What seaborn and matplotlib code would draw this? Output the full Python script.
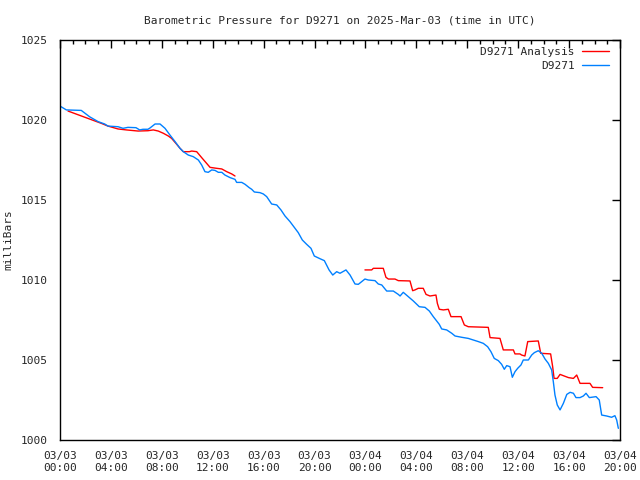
import numpy as np
import pandas as pd
import matplotlib
matplotlib.use("Agg")
import matplotlib.pyplot as plt
import matplotlib.dates as mdates
import seaborn as sns

START = "2025-03-03 00:00"

# D9271 observations: hours since start, pressure (mb)
obs_hours = [0.0, 0.5, 1.67, 2.33, 2.99, 3.51, 3.77, 4.56, 4.95, 5.34, 5.97, 6.26, 6.52, 6.91,
             7.07, 7.47, 7.86, 8.25, 8.64, 9.04, 9.43, 9.69, 10.08, 10.47, 10.87, 11.13, 11.39,
             11.65, 11.92, 12.18, 12.44, 12.71, 12.96, 13.36, 13.75, 13.88, 14.28, 14.54, 14.87,
             15.06, 15.27, 15.71, 15.97, 16.24, 16.63, 17.03, 17.36, 17.68, 18.07, 18.41, 18.72,
             19.04, 19.38, 19.72, 19.98, 20.43, 20.77, 21.14, 21.43, 21.74, 22.0, 22.47, 22.79,
             23.18, 23.44, 23.96, 24.22, 24.75, 25.01, 25.28, 25.67, 26.19, 26.58, 26.72, 26.97,
             27.37, 27.76, 28.23, 28.68, 29.02, 29.33, 29.8, 29.99, 30.38, 30.78, 31.04, 31.56,
             32.08, 32.47, 32.87, 33.26, 33.6, 33.86, 34.12, 34.44, 34.7, 34.91, 35.1, 35.36,
             35.54, 35.75, 35.96, 36.22, 36.4, 36.8, 37.06, 37.27, 37.58, 37.85, 38.11, 38.37,
             38.63, 38.76, 38.89, 39.07, 39.29, 39.55, 39.82, 40.08, 40.34, 40.54, 40.86, 41.12,
             41.33, 41.59, 42.12, 42.37, 42.56, 42.95, 43.34, 43.6, 43.74, 43.87]
obs_press = [1020.87, 1020.63, 1020.6, 1020.2, 1019.9, 1019.75, 1019.62, 1019.58, 1019.48, 1019.54,
             1019.52, 1019.38, 1019.42, 1019.42, 1019.5, 1019.75, 1019.75, 1019.48, 1019.06, 1018.65,
             1018.23, 1018.02, 1017.81, 1017.71, 1017.5, 1017.19, 1016.77, 1016.73, 1016.88, 1016.85,
             1016.73, 1016.73, 1016.56, 1016.4, 1016.29, 1016.1, 1016.1, 1015.98, 1015.77, 1015.67,
             1015.5, 1015.46, 1015.38, 1015.21, 1014.75, 1014.69, 1014.38, 1014.0, 1013.65, 1013.29,
             1012.96, 1012.5, 1012.23, 1011.98, 1011.5, 1011.33, 1011.21, 1010.63, 1010.31, 1010.52,
             1010.42, 1010.63, 1010.31, 1009.75, 1009.73, 1010.06, 1010.0, 1009.96, 1009.75, 1009.69,
             1009.31, 1009.31, 1009.1, 1009.0, 1009.23, 1008.96, 1008.69, 1008.33, 1008.29, 1008.06,
             1007.71, 1007.23, 1006.94, 1006.88, 1006.67, 1006.5, 1006.42, 1006.35, 1006.25, 1006.15,
             1006.04, 1005.83, 1005.52, 1005.1, 1004.96, 1004.73, 1004.42, 1004.65, 1004.58, 1003.92,
             1004.27, 1004.48, 1004.69, 1005.0, 1005.0, 1005.31, 1005.46, 1005.58, 1005.42, 1005.06,
             1004.79, 1004.38, 1003.65, 1002.81, 1002.19, 1001.88, 1002.29, 1002.85, 1002.98, 1002.92,
             1002.65, 1002.65, 1002.75, 1002.92, 1002.65, 1002.71, 1002.5, 1001.56, 1001.5, 1001.42,
             1001.52, 1001.25, 1000.73]

# D9271 Analysis, first segment
ana1_hours = [0.63, 2.33, 3.25, 3.77, 4.56, 5.21, 6.13, 6.91, 7.33, 7.72, 8.12, 8.51, 8.77, 9.17,
              9.43, 9.69, 10.16, 10.35, 10.74, 11.13, 11.52, 11.79, 12.31, 12.71, 13.1, 13.49, 13.75]
ana1_press = [1020.56, 1020.06, 1019.79, 1019.62, 1019.44, 1019.38, 1019.31, 1019.33, 1019.38,
              1019.31, 1019.17, 1019.0, 1018.85, 1018.48, 1018.23, 1018.02, 1018.02, 1018.06,
              1018.02, 1017.65, 1017.29, 1017.04, 1016.98, 1016.94, 1016.77, 1016.63, 1016.5]

# D9271 Analysis, second segment
ana2_hours = [23.96, 24.49, 24.62, 25.4, 25.61, 25.8, 26.32, 26.58, 27.5, 27.71, 27.89, 28.15,
              28.54, 28.76, 29.07, 29.54, 29.65, 29.8, 30.12, 30.51, 30.72, 31.51, 31.77, 32.08,
              33.65, 33.79, 34.57, 34.83, 35.62, 35.75, 36.14, 36.27, 36.53, 36.75, 37.58, 37.77,
              38.55, 38.71, 38.82, 39.07, 39.29, 39.55, 39.95, 40.34, 40.6, 40.86, 41.64, 41.85, 42.64]
ana2_press = [1010.63, 1010.63, 1010.73, 1010.73, 1010.17, 1010.06, 1010.06, 1009.96, 1009.94,
              1009.33, 1009.38, 1009.48, 1009.48, 1009.1, 1009.0, 1009.06, 1008.54, 1008.17,
              1008.13, 1008.17, 1007.71, 1007.71, 1007.19, 1007.08, 1007.04, 1006.4, 1006.35,
              1005.63, 1005.63, 1005.38, 1005.38, 1005.31, 1005.25, 1006.15, 1006.19, 1005.42,
              1005.38, 1004.58, 1003.85, 1003.85, 1004.1, 1004.02, 1003.9, 1003.85, 1004.06,
              1003.54, 1003.54, 1003.29, 1003.27]

title = "Barometric Pressure for D9271 on 2025-Mar-03 (time in UTC)"
ylabel = "milliBars"
label_ana = "D9271 Analysis"
label_obs = "D9271"


def to_df(hours, press):
    t = pd.Timestamp(START) + pd.to_timedelta(np.array(hours), unit="h")
    return pd.DataFrame({"time": t, "press": press})


sns.set_style("white")
plt.rcParams["font.family"] = ["DejaVu Sans Mono"]
plt.rcParams["font.size"] = 8

fig = plt.figure(figsize=(6.4, 4.8), dpi=100)
ax = fig.add_axes([60 / 640, 40 / 480, 560 / 640, 400 / 480])

RED = "#ff0000"
BLUE = "#0080ff"
sns.lineplot(data=to_df(ana1_hours, ana1_press), x="time", y="press", color=RED, lw=1,
             label=label_ana, ax=ax)
sns.lineplot(data=to_df(ana2_hours, ana2_press), x="time", y="press", color=RED, lw=1,
             ax=ax)
sns.lineplot(data=to_df(obs_hours, obs_press), x="time", y="press", color=BLUE, lw=1,
             label=label_obs, ax=ax)

ax.set_xlim(pd.Timestamp(START), pd.Timestamp(START) + pd.Timedelta(hours=44))
ax.set_ylim(1000, 1025)
ax.set_yticks([1000, 1005, 1010, 1015, 1020, 1025])
ax.xaxis.set_major_locator(mdates.HourLocator(byhour=range(0, 24, 4)))
ax.xaxis.set_minor_locator(mdates.HourLocator())
ax.xaxis.set_major_formatter(mdates.DateFormatter("%m/%d\n%H:%M"))

ax.tick_params(which="both", direction="in", top=True, right=True, labelsize=8, color="black")
ax.tick_params(which="major", length=6, width=1, pad=8)
ax.tick_params(which="minor", length=3, width=1)
ax.tick_params(axis="y", pad=9)
for s in ax.spines.values():
    s.set_color("black")
    s.set_linewidth(1)

ax.set_xlabel("")
ax.set_ylabel(ylabel, fontsize=8, labelpad=5)
ax.set_title(title, fontsize=8, pad=12)

leg = ax.legend(loc="upper right", bbox_to_anchor=(1 - 5 / 560, 1 - 1 / 400),
                frameon=False, markerfirst=False, fontsize=8,
                handlelength=2.5, borderaxespad=0.1, labelspacing=0.4, handletextpad=0.6)
for t in leg.get_texts():
    t.set_ha("right")

fig.savefig("out.png", dpi=100)
